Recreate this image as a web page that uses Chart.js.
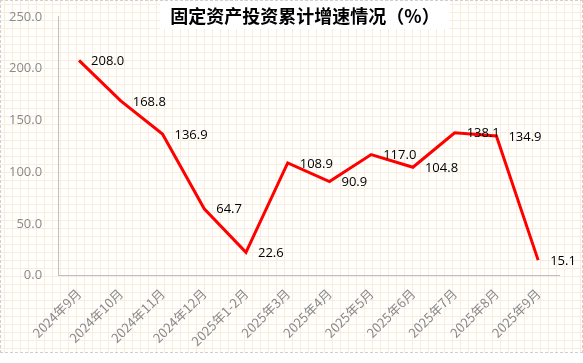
<!DOCTYPE html>
<html>
<head>
<meta charset="utf-8">
<script src="https://cdn.jsdelivr.net/npm/chart.js@4.4.1/dist/chart.umd.min.js"></script>
<style>
  body { margin: 0; background: #fff; }
  #wrap {
    position: relative;
    width: 581px;
    height: 351px;
    border: 1px dashed #cfcfcf;
    background-color: #fff;
    background-image:
      linear-gradient(to right, #fbecd8 1px, transparent 1px),
      linear-gradient(to bottom, #fbecd8 1px, transparent 1px);
    background-size: 8px 8px;
    background-position: 3px 3px;
  }
</style>
</head>
<body>
<div id="wrap"><canvas id="chart" width="581" height="351"></canvas></div>
<script>
const categories = ['2024年9月', '2024年10月', '2024年11月', '2024年12月', '2025年1-2月', '2025年3月',
    '2025年4月', '2025年5月', '2025年6月', '2025年7月', '2025年8月', '2025年9月'];
const growth = [208.0, 168.8, 136.9, 64.7, 22.6, 108.9, 90.9, 117.0, 104.8, 138.1, 134.9, 15.1];
const yTicks = [0, 50, 100, 150, 200, 250];
const chartTitle = '固定资产投资累计增速情况（%）';

// title drawn on top of the plot, with a white box behind it
const titlePlugin = {
    id: 'boxTitle',
    afterDraw(chart) {
        const ctx = chart.ctx;
        ctx.save();
        ctx.font = 'bold 18px "Noto Sans CJK SC"';
        const w = ctx.measureText(chartTitle).width;
        const cx = 304;
        ctx.fillStyle = '#ffffff';
        ctx.fillRect(cx - w / 2 - 10, 0, w + 20, 28);
        ctx.fillStyle = '#000000';
        ctx.textAlign = 'center';
        ctx.textBaseline = 'middle';
        ctx.fillText(chartTitle, cx, 15);
        ctx.restore();
    }
};

// value labels to the right of each point
const valuePlugin = {
    id: 'values',
    afterDatasetsDraw(chart) {
        const ctx = chart.ctx;
        const meta = chart.getDatasetMeta(0);
        ctx.save();
        ctx.font = '13px "Open Sans", "Noto Sans CJK SC"';
        ctx.fillStyle = '#000';
        ctx.textAlign = 'left';
        ctx.textBaseline = 'middle';
        meta.data.forEach((pt, i) => {
            ctx.fillText(growth[i].toFixed(1), pt.x + 12, pt.y + 1);
        });
        ctx.restore();
    }
};

new Chart(document.getElementById('chart'), {
    type: 'line',
    data: {
        labels: categories,
        datasets: [{
            data: growth,
            borderColor: '#ff0000',
            borderWidth: 3,
            pointRadius: 0,
            tension: 0,
            fill: false
        }]
    },
    options: {
        responsive: false,
        animation: false,
        layout: { padding: { top: 9, right: 23, left: 0, bottom: 1 } },
        plugins: {
            legend: { display: false },
            title: { display: false },
            tooltip: { enabled: false }
        },
        scales: {
            x: {
                offset: true,
                grid: { display: false },
                border: { color: '#bfbfbf', width: 1 },
                ticks: {
                    color: '#8a8a8a',
                    font: { size: 13, family: '"Noto Sans CJK SC"' },
                    maxRotation: 45,
                    minRotation: 45,
                    padding: 2
                }
            },
            y: {
                min: 0,
                max: 250,
                afterBuildTicks(axis) { axis.ticks = yTicks.map(v => ({ value: v })); },
                grid: { display: false },
                border: { color: '#bfbfbf', width: 1 },
                ticks: {
                    color: '#8a8a8a',
                    font: { size: 13, family: '"Open Sans"' },
                    padding: 8,
                    callback: v => v.toFixed(1)
                }
            }
        }
    },
    plugins: [titlePlugin, valuePlugin]
});
</script>
</body>
</html>
